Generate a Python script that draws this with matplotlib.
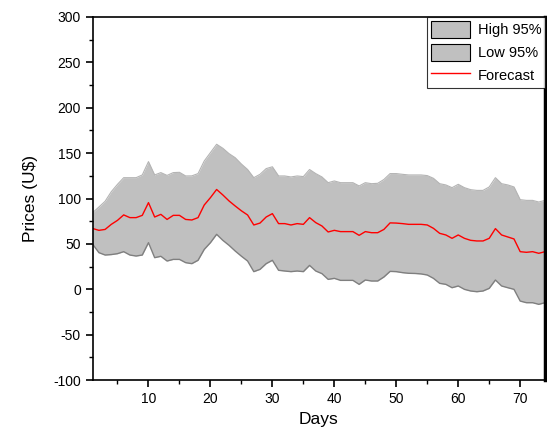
import numpy as np
import matplotlib.pyplot as plt
from matplotlib.patches import Patch
from matplotlib.lines import Line2D
from matplotlib.ticker import MultipleLocator

plt.rcParams['font.family'] = ['Liberation Sans', 'DejaVu Sans']
plt.rcParams['axes.unicode_minus'] = False

# ---- data ----
days = np.arange(1, 75)

forecast = [67, 65, 66, 71.6, 76, 82, 79, 79, 81.5, 95.5,
            79.7, 82.6, 77, 81.5, 81.5, 77, 76.4, 79, 92.9, 101,
            110, 104, 97.4, 91.8, 86.5, 81.9, 70.9, 73, 79.7, 83.4,
            72.4, 72.4, 70.9, 72.4, 71.6, 79, 73.5, 69.8, 63.2, 65,
            63.6, 63.6, 63.6, 59.5, 63.6, 62.4, 62.4, 66, 73.2, 73,
            72.4, 71.6, 71.6, 71.6, 70.9, 67.2, 61.7, 59.9, 56.2, 59.9,
            56.2, 54, 53.3, 53.3, 56.2, 66.9, 59.9, 57.7, 55.5, 41.5,
            40.8, 41.5, 39.7, 41.5]

high95 = [84.5, 90.7, 97, 107.6, 115.7, 123, 123, 123, 126, 140.7,
          126, 128.6, 125.5, 128.6, 128.9, 124.9, 125, 127.5, 141.4, 150.6,
          159.8, 155.4, 149.5, 145, 138, 132, 123, 126.7, 133, 135,
          124.9, 124.9, 123.8, 124.9, 124.2, 132, 127.5, 123.8, 117.5, 119.4,
          117.5, 117.5, 117.5, 113.9, 117.5, 116.4, 116.8, 121, 127.5, 127.5,
          126.7, 126, 126, 126, 125.3, 122.3, 116.4, 115, 112, 115.7,
          112, 109.8, 109, 109, 112.8, 123, 116.4, 115, 112.8, 98.8,
          98, 98, 96.2, 98]

low95 = [49.6, 40.4, 37.8, 38.3, 39.3, 41.5, 37.8, 36.7, 37.8, 51.4,
         34.9, 36.4, 31.2, 33, 33, 29.4, 28.3, 32, 44, 51.4,
         60.6, 54, 48.5, 42.2, 36.5, 31.2, 19.5, 22, 28.3, 32,
         21, 20.2, 19.5, 20.2, 19.5, 26.4, 20.2, 17.3, 11, 12.1,
         9.9, 9.9, 9.9, 5.5, 10.3, 9.2, 9.2, 13.6, 19.8, 19.5,
         18.4, 17.7, 17.5, 17, 15.8, 12.1, 6.6, 5.5, 1.8, 3.7,
         0, -1.8, -2.6, -1.8, 1.1, 10.3, 3.7, 1.8, 0, -12.9,
         -14.7, -14.7, -16.5, -14.7]

labels = ['High 95%', 'Low 95%', 'Forecast']

# ---- plot ----
fig = plt.figure(figsize=(5.47, 4.41), dpi=100)
ax = fig.add_axes([0.1695, 0.138, 0.8268, 0.8235])

ax.fill_between(days, low95, high95, color='#c0c0c0', lw=0)
ax.plot(days, high95, color='#b4b4b4', lw=0.8)
ax.plot(days, low95, color='#7f7f7f', lw=1.0)
ax.plot(days, forecast, color='red', lw=1.0)

ax.set_xlim(1, 74)
ax.set_ylim(-100, 300)
ax.xaxis.set_major_locator(MultipleLocator(10))
ax.xaxis.set_minor_locator(MultipleLocator(5))
ax.yaxis.set_major_locator(MultipleLocator(50))
ax.yaxis.set_minor_locator(MultipleLocator(25))
ax.tick_params(which='major', direction='out', length=5, width=1.2, labelsize=10)
ax.tick_params(which='minor', direction='out', length=3, width=1.0)
ax.tick_params(top=False, right=False, which='both')

for s in ax.spines.values():
    s.set_linewidth(1.2)
ax.spines['right'].set_linewidth(2.5)

ax.set_xlabel('Days', fontsize=12.5, labelpad=4)
ax.set_ylabel('Prices (U$)', fontsize=12.5, labelpad=11)

handles = [Patch(facecolor='#c0c0c0', edgecolor='black', lw=0.8),
           Patch(facecolor='#c0c0c0', edgecolor='black', lw=0.8),
           Line2D([], [], color='red', lw=1.0)]
leg = ax.legend(handles, labels, loc='upper right', fontsize=10.5,
                frameon=True, fancybox=False, borderaxespad=0,
                handlelength=2.7, handleheight=1.5, handletextpad=0.5,
                borderpad=0.25, labelspacing=0.35)
leg.get_frame().set_edgecolor('black')
leg.get_frame().set_linewidth(0.8)

fig.savefig('out.png', dpi=100)
